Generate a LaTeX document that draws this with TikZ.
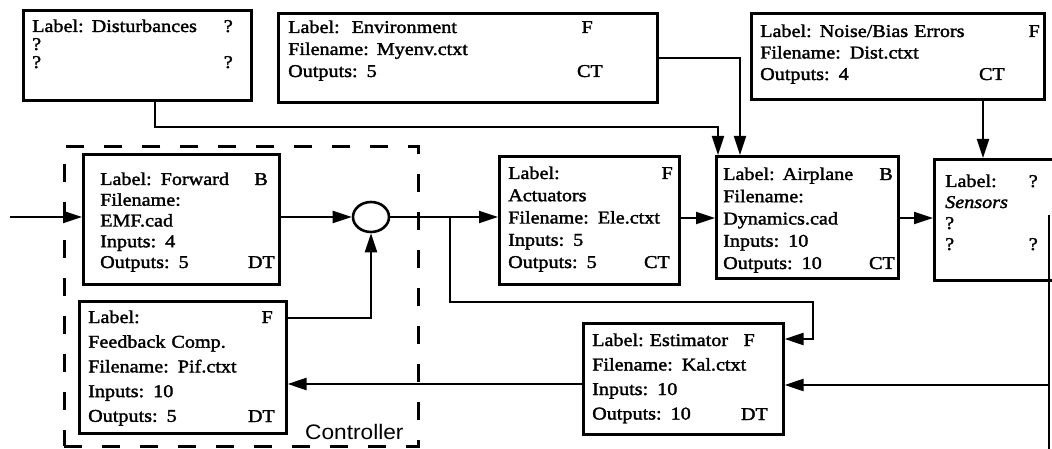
\documentclass[tikz,border=0pt]{standalone}
\usepackage{fontspec}
\setmainfont[FakeStretch=1.12,FakeBold=1.8]{Liberation Serif}
\newfontfamily\ctlfont[FakeStretch=1.08]{Liberation Sans}
\usetikzlibrary{arrows.meta,shapes.geometric,calc}
\begin{document}
\begin{tikzpicture}[x=1pt,y=-1pt,
  blk/.style={draw, line width=2.6pt, inner sep=0pt, anchor=north west},
  txt/.style={anchor=base west, inner sep=0pt, align=left, text width=260pt, font=\fontsize{18}{#1}\selectfont},
  rl/.style={anchor=base east, inner sep=0pt, font=\fontsize{18}{20}\selectfont},
  conn/.style={line width=2.2pt, -{Triangle[length=19pt,width=12pt]}},
  plain/.style={line width=2.2pt},
  ctrlbox/.style={draw, line width=2.6pt, dash pattern=on 18pt off 20pt, inner sep=0pt, anchor=north west}]
\useasboundingbox (0,0) rectangle (1052,449);
% boxes
\node[blk, minimum width=228, minimum height=90] (dist) at (22,9) {};
\node[blk, minimum width=379, minimum height=89] (env) at (277,12) {};
\node[blk, minimum width=293, minimum height=86] (noise) at (750,12) {};
\node[ctrlbox, minimum width=354, minimum height=300] (ctrl) at (63,145) {};
\node[blk, minimum width=196, minimum height=130] (fwd) at (82,153) {};
\node[blk, minimum width=180, minimum height=128] (act) at (498,155) {};
\node[blk, minimum width=182, minimum height=122] (air) at (715,155) {};
\node[blk, minimum width=140, minimum height=121] (sens) at (933,158) {};
\node[blk, minimum width=207, minimum height=132] (fb) at (78,300) {};
\node[blk, minimum width=200, minimum height=111] (est) at (582,322) {};
\node[draw, ellipse, line width=2.6pt, minimum width=36, minimum height=30, inner sep=0pt] (sum) at (371,217) {};
% left-column texts
\node[txt=18] (distT) at (32,32) {Label:\hspace{8pt}Disturbances\\ ?\\ ?};
\node[txt=22] (envT) at (288,33) {Label:\hspace{12pt}Environment\\ Filename:\hspace{8pt}Myenv.ctxt\\ Outputs: 5};
\node[txt=21.5] (noiseT) at (760,37) {Label:\hspace{8pt}Noise/Bias Errors\\ Filename: Dist.ctxt\\ Outputs: 4};
\node[txt=20.75] (fwdT) at (100,185) {Label: Forward\\ Filename:\\ EMF.cad\\ Inputs: 4\\ Outputs: 5};
\node[txt=22.25] (actT) at (508,179) {Label:\\ Actuators\\ Filename: Ele.ctxt\\ Inputs: 5\\ Outputs: 5};
\node[txt=22.25] (airT) at (723,180) {Label:\hspace{8pt}Airplane\\ Filename:\\ Dynamics.cad\\ Inputs: 10\\ Outputs: 10};
\node[txt=21] (sensT) at (945,187) {Label:\\ \textit{Sensors}\\ ?\\ ?};
\node[txt=24.7] (fbT) at (88,323) {Label:\\ Feedback Comp.\\ Filename: Pif.ctxt\\ Inputs: 10\\ Outputs: 5};
\node[txt=24.5] (estT) at (592,346) {Label:\hspace{6pt}Estimator\\ Filename: Kal.ctxt\\ Inputs: 10\\ Outputs: 10};
% right-column texts
\node[rl] (distQ1) at (233,32) {?};
\node[rl] (distQ2) at (233,68) {?};
\node[rl] (envF) at (593,33) {F};
\node[rl] (envCT) at (603,77) {CT};
\node[rl] (noiseF) at (1040,37) {F};
\node[rl] (noiseCT) at (1005,80) {CT};
\node[rl] (fwdB) at (268,185) {B};
\node[rl] (fwdDT) at (275,268) {DT};
\node[rl] (actF) at (673,179) {F};
\node[rl] (actCT) at (670,268) {CT};
\node[rl] (airB) at (893,180) {B};
\node[rl] (airCT) at (895,269) {CT};
\node[rl] (sensQ1) at (1038,187) {?};
\node[rl] (sensQ2) at (1038,250) {?};
\node[rl] (fbF) at (273,323) {F};
\node[rl] (fbDT) at (275,422) {DT};
\node[rl] (estF) at (755,346) {F};
\node[rl] (estDT) at (768,420) {DT};
\node[anchor=base west, inner sep=0pt, font=\ctlfont\fontsize{21}{24}\selectfont] (ctrlT) at (305,439) {Controller};
% connectors
\coordinate (in) at (10,217);
\draw[conn] (in) -- (in -| fwd.west);
\draw[conn] (sum -| fwd.east) -- (sum.west);
\draw[conn] (sum.east) -- (sum.east -| act.west);
\draw[conn] (act.east |- 0,218) -- (air.west |- 0,218);
\draw[conn] (air.east |- 0,218) -- (sens.west |- 0,218);
\coordinate (j1) at (450,217);
\coordinate (j2) at (813,302);
\draw[conn] (j1) -- (j1 |- j2) -- (j2) -- (j2 |- 0,339) -- (est.east |- 0,339);
\draw[conn] (fb.east |- 0,318) -| (sum.south);
\draw[conn] (est.west |- 0,384) -- (fb.east |- 0,384);
\coordinate (r1) at (1049,215);
\coordinate (r2) at (1049,460);
\draw[plain] (r1) -- (r2);
\draw[conn] (r1 |- 0,385) -- (est.east |- 0,385);
\coordinate (d1) at (155,127);
\draw[conn] (d1 |- dist.south) -- (d1) -| (718,0 |- air.north);
\draw[conn] (env.east |- 0,58) -| (740,0 |- air.north);
\draw[conn] (983,0 |- noise.south) -- (983,0 |- sens.north);
\end{tikzpicture}
\end{document}
